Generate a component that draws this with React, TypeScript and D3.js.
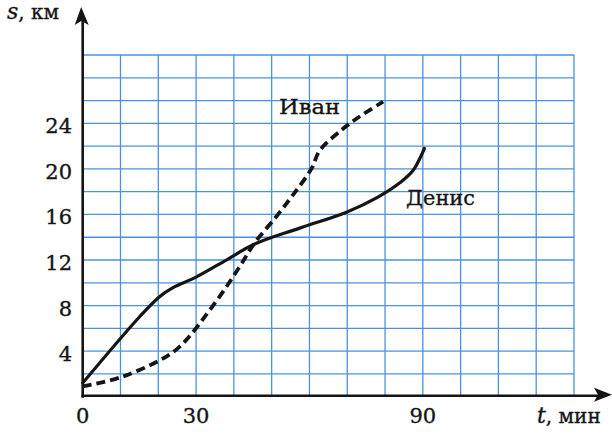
import React from "react";
import * as d3 from "d3";

const denisT = [0, 15, 20.4, 24, 30, 38, 45.5, 57.4, 69.8, 78, 84, 87.5, 90.4];
const denisS = [1.2, 7.0, 8.8, 9.6, 10.5, 12.0, 13.4, 14.8, 16.2, 17.5, 18.8, 19.9, 21.8];

const ivanT = [0, 10, 20.4, 25, 28.5, 32.7, 37.1, 41.5, 45.5, 51.2, 55.6, 60.5, 62.7, 68.8, 73.3, 79.5];
const ivanS = [0.9, 1.7, 3.2, 4.2, 5.4, 7.2, 9.2, 11.4, 13.5, 15.8, 17.7, 20.0, 21.6, 23.5, 24.6, 25.9];

const xTickLabels = [0, 30, 90];
const yTickLabels = [4, 8, 12, 16, 20, 24];

const W = 612;
const H = 434;
const FONT = "'DejaVu Serif', 'Liberation Serif', serif";

export default function App() {
  const x = d3.scaleLinear().domain([0, 130]).range([82.7, 574]);
  const y = d3.scaleLinear().domain([0, 30]).range([396.7, 55]);
  const xGrid = d3.range(10, 131, 10);
  const yGrid = d3.range(2, 31, 2);
  const line = d3
    .line<[number, number]>()
    .x((d) => x(d[0]))
    .y((d) => y(d[1]))
    .curve(d3.curveCatmullRom.alpha(0.5));
  const denis = denisT.map((t, i) => [t, denisS[i]] as [number, number]);
  const ivan = ivanT.map((t, i) => [t, ivanS[i]] as [number, number]);
  const grid = "#4a93dc";
  const ink = "#151515";
  const x0 = x(0);
  const y0 = y(0);
  return (
    <svg
      width={W}
      height={H}
      style={{ position: "absolute", left: 0, top: 0, background: "#fff" }}
    >
      <g>
        {xGrid.map((v) => (
          <line key={"xg" + v} x1={x(v)} x2={x(v)} y1={y(0)} y2={y(30)} stroke={grid} strokeWidth={1.3} />
        ))}
        {yGrid.map((v) => (
          <line key={"yg" + v} x1={x(0)} x2={x(130)} y1={y(v)} y2={y(v)} stroke={grid} strokeWidth={1.3} />
        ))}
      </g>
      <path d={line(denis) || ""} fill="none" stroke={ink} strokeWidth={3.2} strokeLinecap="round" />
      <path d={line(ivan) || ""} fill="none" stroke={ink} strokeWidth={3.8} strokeDasharray="9 5" />
      {/* axes */}
      <line x1={x0} x2={x0} y1={y0 + 1} y2={20} stroke={ink} strokeWidth={2.6} />
      <path d={`M${x0 - 1.5},7 L${x0 + 6},25 L${x0 - 1.5},21 L${x0 - 8},25 Z`} fill={ink} />
      <line x1={x0 - 1.2} x2={598} y1={y0 - 1} y2={y0 - 1} stroke={ink} strokeWidth={2.6} />
      <path d={`M612,${y0 - 2} L594,${y0 - 9} L598,${y0 - 2} L594,${y0 + 5} Z`} fill={ink} />
      {/* tick labels */}
      <g fontFamily={FONT} fill={ink} stroke={ink} strokeWidth={0.35}>
        {xTickLabels.map((v) => (
          <text key={"xl" + v} x={x(v)} y={423} textAnchor="middle" fontSize={21}>
            {v}
          </text>
        ))}
        {yTickLabels.map((v) => (
          <text key={"yl" + v} x={72} y={y(v) + 10} textAnchor="end" fontSize={21}>
            {v}
          </text>
        ))}
        <text x={7} y={19} fontSize={20}>
          <tspan fontStyle="italic" fontSize={22}>s</tspan>, км
        </text>
        <text x={537} y={423} fontSize={20}>
          <tspan fontStyle="italic" fontSize={22}>t</tspan>, мин
        </text>
        <text x={279} y={114} fontSize={21} textLength={61} lengthAdjust="spacingAndGlyphs">
          Иван
        </text>
        <text x={406} y={205} fontSize={21} textLength={69} lengthAdjust="spacingAndGlyphs">
          Денис
        </text>
      </g>
    </svg>
  );
}
